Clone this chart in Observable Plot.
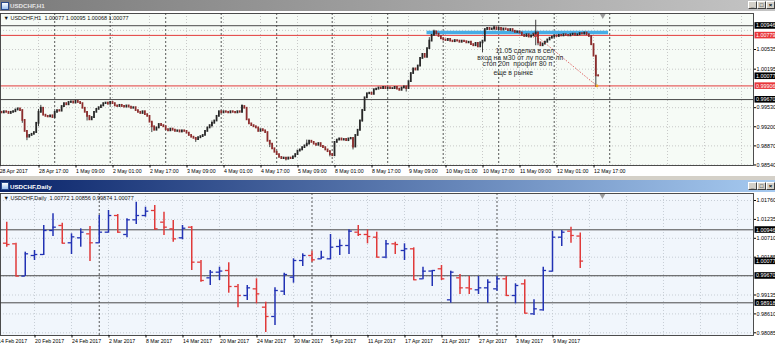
<!DOCTYPE html>
<html><head><meta charset="utf-8">
<script src="https://cdn.jsdelivr.net/npm/d3@7"></script>
<script src="https://cdn.jsdelivr.net/npm/@observablehq/plot@0.6"></script>
<style>
body{margin:0;background:#d4d0c8;}
#wrap{position:relative;width:775px;height:347px;overflow:hidden;background:#d4d0c8;font-family:'Liberation Sans',Arial,sans-serif;}
.tb{position:absolute;left:0;width:775px;overflow:hidden;}
.tb .ico{position:absolute;left:1px;width:6px;height:6px;border:1px solid #2a4a8a;background:linear-gradient(#fff,#9cc0ee);}
.tb .tt{position:absolute;left:10px;font-weight:bold;font-size:6.2px;white-space:nowrap;}
.tb .btn{position:absolute;width:7px;height:6px;background:#d4d0c8;border:1px solid;border-color:#fff #404040 #404040 #fff;font-size:6px;line-height:6px;text-align:center;color:#000;font-weight:bold;}
#c1,#c2{position:absolute;left:0;width:775px;}
</style></head><body>
<div id="wrap">
  <div class="tb" id="tb1" style="top:0;height:11px;background:linear-gradient(90deg,#7b7b7b,#c4c4c4);">
    <div class="ico" style="top:2px"></div><div class="tt" style="top:2px;color:#e4e4e4">USDCHF,H1</div>
    <div class="btn" style="left:748px;top:1px">_</div><div class="btn" style="left:757px;top:1px">□</div><div class="btn" style="left:766px;top:1px">×</div>
  </div>
  <div id="c1" style="top:11px"></div>
  <div class="tb" id="tb2" style="top:180px;height:12px;background:linear-gradient(90deg,#0a246a,#a6caf0);">
    <div class="ico" style="top:2px"></div><div class="tt" style="top:2.5px;color:#ffffff">USDCHF,Daily</div>
    <div class="btn" style="left:748px;top:2px">_</div><div class="btn" style="left:757px;top:2px">□</div><div class="btn" style="left:766px;top:2px">×</div>
  </div>
  <div id="c2" style="top:192px"></div>
</div>
<script>
// ---------------- H1 chart data ----------------
const h1Header = "▼ USDCHF,H1  1.00077 1.00095 1.00068 1.00077";
const h1Labels = ["28 Apr 2017","28 Apr 17:00","1 May 09:00","2 May 01:00","2 May 17:00","3 May 09:00","4 May 01:00","4 May 17:00","5 May 09:00","8 May 01:00","8 May 17:00","9 May 09:00","10 May 01:00","10 May 17:00","11 May 09:00","12 May 01:00","12 May 17:00"];
const h1LabelBars = [0,17,33,49,65,81,97,113,129,145,161,177,193,209,225,241,257];
const h1GridBars = [17,33,49,65,81,97,113,129,145,161,177,193,209,225,241,257,273,289,305,321];
const h1DayStartBars = [24,48,72,96,120,144,168,192,216,240,264];
const h1PriceGrid = [0.98540,0.98870,0.99200,0.99530,0.99865,1.00195,1.00535,1.00865];
const h1PriceLabels = [0.98540,0.98870,0.99200,0.99530,1.00195,1.00535];
// hourly closes, 28 Apr 00:00 .. 12 May 19:00
const h1Close = [
 0.9945,0.9944,0.9946,0.9945,0.9943,0.9945,0.9946,0.9949,0.9951,0.9948,0.9931,0.9912,
 0.9902,0.9905,0.9907,0.9910,0.9926,0.9945,0.9952,0.9940,0.9938,0.9937,0.9939,0.9936,
 0.9945,0.9948,0.9947,0.9955,0.9960,0.9958,0.9962,0.9963,0.9961,0.9964,0.9962,0.9960,
 0.9952,0.9945,0.9938,0.9932,0.9936,0.9945,0.9950,0.9953,0.9956,0.9960,0.9961,0.9959,
 0.9962,0.9960,0.9956,0.9955,0.9957,0.9955,0.9954,0.9956,0.9954,0.9952,0.9953,0.9948,
 0.9945,0.9943,0.9946,0.9941,0.9938,0.9928,0.9920,0.9914,0.9918,0.9924,0.9922,0.9920,
 0.9915,0.9913,0.9916,0.9914,0.9912,0.9913,0.9911,0.9913,0.9912,0.9909,0.9905,0.9902,
 0.9900,0.9898,0.9901,0.9903,0.9905,0.9912,0.9918,0.9922,0.9926,0.9930,0.9938,0.9946,
 0.9944,0.9946,0.9945,0.9944,0.9946,0.9945,0.9944,0.9946,0.9945,0.9955,0.9952,0.9932,
 0.9925,0.9922,0.9920,0.9918,0.9912,0.9915,0.9913,0.9910,0.9895,0.9890,0.9882,0.9876,
 0.9872,0.9867,0.9865,0.9866,0.9864,0.9866,0.9865,0.9868,0.9872,0.9878,0.9880,0.9884,
 0.9887,0.9890,0.9895,0.9893,0.9890,0.9888,0.9891,0.9886,0.9884,0.9880,0.9877,0.9872,
 0.9870,0.9893,0.9897,0.9899,0.9897,0.9898,0.9896,0.9899,0.9900,0.9885,0.9905,0.9914,
 0.9930,0.9948,0.9970,0.9977,0.9978,0.9976,0.9984,0.9985,0.9987,0.9986,0.9988,0.9986,
 0.9987,0.9986,0.9986,0.9988,0.9985,0.9983,0.9987,0.9989,0.9986,0.9998,1.0012,1.0020,
 1.0018,1.0025,1.0038,1.0045,1.0040,1.0055,1.0068,1.0078,1.0084,1.0080,1.0076,1.0072,
 1.0070,1.0069,1.0071,1.0068,1.0067,1.0069,1.0068,1.0066,1.0068,1.0067,1.0065,1.0066,
 1.0062,1.0060,1.0064,1.0058,1.0065,1.0068,1.0088,1.0090,1.0088,1.0089,1.0091,1.0088,
 1.0090,1.0087,1.0089,1.0088,1.0086,1.0088,1.0085,1.0083,1.0084,1.0082,1.0078,1.0076,
 1.0079,1.0075,1.0077,1.0080,1.0082,1.0065,1.0060,1.0063,1.0066,1.0070,1.0073,1.0075,
 1.0077,1.0076,1.0078,1.0077,1.0079,1.0078,1.0077,1.0079,1.0080,1.0078,1.0079,1.0081,
 1.0080,1.0082,1.0079,1.0076,1.0062,1.0042,1.0008,1.00077
];
// notable wicks: [bar, high, low]
const h1Wicks = [[10,0.9949,0.9926],[12,0.9906,0.9896],[17,0.9950,0.9920],[18,0.9957,0.9944],[38,0.9946,0.9930],[66,0.9928,0.9910],[85,0.9901,0.9893],[92,0.9930,0.9918],[105,0.9958,0.9944],
 [117,0.9896,0.9884],[124,0.9867,0.9861],[133,0.9897,0.9886],[143,0.9878,0.9868],[153,0.9899,0.9880],[157,0.9950,0.9928],[176,0.9989,0.9980],[186,1.0074,1.0055],[188,1.0087,1.0078],[209,1.0068,1.0048],
 [214,1.0094,1.0086],[232,1.0104,1.0060],[233,1.0080,1.0060],[256,1.0077,1.0060],[258,1.0042,0.9988],[259,1.00095,1.00068]];
const h1LevelValues = [1.00946,1.00779,0.99906,0.99670];
const h1LevelRoles = ["level","entry","target","level"];
const h1BoxValues = [1.00946,1.00779,1.00077,0.99906,0.99670];
const h1BoxRoles = ["level","entry","bid","target","level"];
const h1ZoneBars = [185,263.5];
const h1ZonePrice = 1.00830;
const h1TradeBars = [232,258.5];
const h1TradePrices = [1.00779,0.99906];
const h1NoteLines = ["11.05 сделка в сел","вход на м30 от лу после лп","стоп 20п  профит 80 п","еще в рынке"];
const h1NoteBars = [214.6,206.7,209.0,213.7];
const h1NotePrices = [1.00518,1.00385,1.00288,1.00125];
const h1ShiftBar = 261;

// ---------------- Daily chart data ----------------
const d1Header = "▼ USDCHF,Daily  1.00772 1.00856 0.99874 1.00077";
const d1Labels = ["14 Feb 2017","20 Feb 2017","24 Feb 2017","2 Mar 2017","8 Mar 2017","14 Mar 2017","20 Mar 2017","24 Mar 2017","30 Mar 2017","5 Apr 2017","11 Apr 2017","17 Apr 2017","21 Apr 2017","27 Apr 2017","3 May 2017","9 May 2017"];
const d1LabelBars = [0,4,8,12,16,20,24,28,32,36,40,44,48,52,56,60];
const d1GridBars = [4,8,12,16,20,24,28,32,36,40,44,48,52,56,60,64,68,72,76,80];
const d1MonthStartBars = [11,34,54];
const d1PriceGrid = [0.98085,0.98610,0.99135,0.99660,1.00185,1.00710,1.01235,1.01760];
const d1PriceLabels = [0.98085,0.98610,0.99135,1.00185,1.00710,1.01235,1.01760];
const d1Open  = [1.0045,1.00574,1.00557,0.99660,1.00232,1.00260,1.00927,1.01066,1.00585,1.00723,1.00834,1.00585,1.00880,1.01343,1.00816,1.01223,
 1.01343,1.01482,1.01158,1.00973,1.00723,1.01019,1.00047,0.99612,0.99769,0.99816,0.99371,0.99121,0.99306,0.98797,0.98538,0.99241,
 0.99630,1.00093,1.00232,1.00140,1.00140,1.00482,1.00510,1.00880,1.00816,1.00741,1.00186,1.00557,1.00371,1.00418,0.99584,0.99800,
 0.99863,0.99001,0.99612,0.99334,0.99279,0.99334,0.99306,0.99584,0.99121,0.99445,0.98612,0.98723,0.99797,1.00741,1.00908,1.00772];
const d1High  = [1.0070,1.01157,1.00570,1.00325,1.00371,1.01066,1.01390,1.01130,1.00834,1.00973,1.01038,1.01343,1.01482,1.01371,1.01251,1.01713,
 1.01574,1.01621,1.01435,1.01204,1.01066,1.01038,1.00093,0.99816,0.99908,1.00030,0.99427,0.99399,0.99584,0.98935,0.99334,0.99741,
 1.00140,1.00279,1.00352,1.00352,1.00816,1.00667,1.00945,1.01066,1.00945,1.00880,1.00649,1.00603,1.00557,1.00445,0.99908,0.99816,
 0.99955,0.99797,0.99704,0.99649,0.99649,0.99557,0.99649,0.99649,0.99445,0.99557,0.99001,0.99908,1.00908,1.00927,1.01019,1.00856];
const d1Low   = [1.0040,1.00463,0.99649,0.99649,1.00093,1.00232,1.00760,1.00557,1.00260,1.00463,1.00066,1.00557,1.00852,1.00852,1.00723,1.01093,
 1.01297,1.00927,1.00788,1.00603,1.00667,0.99816,0.99491,0.99399,0.99538,0.99185,0.98779,0.98982,0.98890,0.98093,0.98288,0.99121,
 0.99463,0.99927,1.00047,1.00112,1.00112,1.00232,1.00260,1.00760,1.00557,1.00168,1.00140,1.00260,1.00093,0.99538,0.99557,0.99371,
 0.99538,0.98907,0.99149,0.99149,0.99149,0.98907,0.99241,0.99093,0.98890,0.98612,0.98566,0.98686,0.99769,1.00482,1.00574,0.99874];
const d1CloseArr = [1.00585,1.00538,0.99660,1.00279,1.00260,1.00927,1.01019,1.00574,1.00750,1.00880,1.00585,1.00880,1.01343,1.00880,1.01223,1.01343,
 1.01463,1.00973,1.01019,1.00695,1.00990,1.00047,0.99538,0.99769,0.99800,0.99371,0.99121,0.99334,0.99167,0.98538,0.99260,0.99704,
 1.00093,1.00232,1.00112,1.00186,1.00463,1.00510,1.00908,1.00816,1.00760,1.00186,1.00557,1.00538,1.00418,0.99557,0.99797,0.99816,
 0.99584,0.99769,0.99334,0.99306,0.99334,0.99491,0.99584,0.99121,0.99399,0.98630,0.98751,0.99816,1.00741,1.00880,1.00788,1.00077];
const d1LevelValues = [1.00946,0.99670,0.98918];
const d1BoxValues = [1.00946,1.00077,0.99670,0.98918];
const d1ShiftBar = 65.4;

// ---------------- helpers ----------------
const FONT = "'Liberation Sans', Arial, sans-serif";
const roleColor = {level:"#4a4a4a", entry:"#e33b3b", target:"#e33b3b", bid:"#000000"};
// near-white text fills used as keys for the box colours drawn behind them
const boxKey = {level:"#fffffe", bid:"#fffffe", entry:"#fffffd", target:"#fffffd"};
const boxBg = {"#fffffe":"#000000", "#fffffd":"#e8363a"};

function addBoxes(svg) {
  Object.keys(boxBg).forEach(key => {
    svg.querySelectorAll(`g[fill="${key}"] text, text[fill="${key}"]`).forEach(t => {
      const b = t.getBBox();
      const r = document.createElementNS("http://www.w3.org/2000/svg", "rect");
      r.setAttribute("x", b.x - 1.5);
      r.setAttribute("y", b.y - 0.3);
      r.setAttribute("width", b.width + 8);
      r.setAttribute("height", b.height + 0.6);
      r.setAttribute("fill", boxBg[key]);
      const tr = t.getAttribute("transform");
      if (tr) r.setAttribute("transform", tr);
      t.parentNode.insertBefore(r, t);
    });
  });
}

const boxMarks = (boxes) => {
  const groups = d3.groups(boxes, d => boxKey[d.role]);
  return groups.map(([key, arr]) => Plot.text(arr, {
    y: "v", text: d => d.v.toFixed(5), frameAnchor: "right", dx: 2.5, textAnchor: "start",
    fill: key, fontSize: 5.4
  }));
};

// ---------------- H1 chart ----------------
const h1Bars = h1Close.map((c, i) => ({i, o: i ? h1Close[i - 1] : c, c}));
const h1LabelMap = new Map(h1LabelBars.map((b, k) => [b, h1Labels[k]]));
const h1Boxes = h1BoxValues.map((v, k) => ({v, role: h1BoxRoles[k]}));
const h1Notes = h1NoteLines.map((t, k) => ({t, i: h1NoteBars[k], p: h1NotePrices[k]}));

const chart1 = Plot.plot({
  width: 775, height: 165,
  marginTop: 2, marginBottom: 11, marginLeft: 0, marginRight: 22,
  x: {type: "linear", domain: [0.566, 326.18]},
  y: {domain: [0.98531, 1.01157]},
  style: {fontFamily: FONT, fontSize: "5.4px", background: "#ffffff", color: "#000"},
  marks: [
    Plot.frame({fill: "#f6fbf6"}),
    Plot.ruleY(h1PriceGrid, {y: d => d, stroke: "#bdbdbd", strokeDasharray: "1,2", strokeWidth: 0.8}),
    Plot.ruleX(h1GridBars, {x: d => d, stroke: "#bdbdbd", strokeDasharray: "1,2", strokeWidth: 0.8}),
    Plot.ruleX(h1DayStartBars, {x: d => d, stroke: "#2e2e2e", strokeDasharray: "2,2", strokeWidth: 0.8}),
    Plot.ruleY(h1LevelValues, {y: d => d, stroke: (d, k) => roleColor[h1LevelRoles[k]], strokeWidth: 1}),
    Plot.ruleY([h1ZonePrice], {y: d => d, x1: h1ZoneBars[0], x2: h1ZoneBars[1], stroke: "#47ade6", strokeWidth: 3.6}),
    Plot.ruleX(h1Wicks, {x: d => d[0], y1: d => d[2], y2: d => d[1], stroke: "#2a2a2a", strokeWidth: 0.9}),
    Plot.ruleX(h1Bars, {x: "i", y1: "o", y2: "c", stroke: d => d.c >= d.o ? "#262626" : "#8c2c2c", strokeWidth: 1.8, strokeLinecap: "square"}),
    Plot.link([0], {x1: () => h1TradeBars[0], x2: () => h1TradeBars[1], y1: () => h1TradePrices[0], y2: () => h1TradePrices[1], stroke: "#d84040", strokeDasharray: "1.5,1.5", strokeWidth: 0.8}),
    Plot.dot([0], {x: () => h1TradeBars[0], y: () => h1TradePrices[0], symbol: "times", r: 2, stroke: "#e03030", strokeWidth: 1}),
    Plot.dot([0], {x: () => h1TradeBars[1], y: () => h1TradePrices[1], r: 1.4, fill: "#f0a020"}),
    Plot.dot([h1ShiftBar], {x: d => d, frameAnchor: "top", dy: 2, symbol: "triangle", rotate: 180, r: 2.2, fill: "#9a9a9a"}),
    Plot.text(h1Notes, {x: "i", y: "p", text: "t", textAnchor: "start", fontSize: 6.8, fill: "#2b2b2b"}),
    Plot.text([h1Header], {frameAnchor: "top-left", dx: 3, dy: 3, text: d => d, lineAnchor: "top", fontSize: 5.5, fill: "#111"}),
    Plot.frame({stroke: "#3a3a3a", strokeWidth: 0.9}),
    Plot.axisX({ticks: h1LabelBars, tickFormat: d => h1LabelMap.get(d), tickSize: 2.5, tickPadding: 1, textAnchor: "start", dx: 0.5, fontSize: 5.2, label: null}),
    Plot.axisY({anchor: "right", ticks: h1PriceLabels, tickFormat: d => d.toFixed(5), tickSize: 2, tickPadding: 1, fontSize: 5.4, label: null}),
    ...boxMarks(h1Boxes)
  ]
});
document.getElementById("c1").appendChild(chart1);
addBoxes(chart1);

// ---------------- Daily chart ----------------
const d1Bars = d1Open.map((o, i) => ({i, o, h: d1High[i], l: d1Low[i], c: d1CloseArr[i]}));
const d1LabelMap = new Map(d1LabelBars.map((b, k) => [b, d1Labels[k]]));
const d1Boxes = d1BoxValues.map(v => ({v, role: "level"}));
const barColor = d => d.c >= d.o ? "#2232b4" : "#e03a3a";

const chart2 = Plot.plot({
  width: 775, height: 155,
  marginTop: 1, marginBottom: 12, marginLeft: 0, marginRight: 22,
  x: {type: "linear", domain: [0.3243, 81.73]},
  y: {domain: [0.98010, 1.019544]},
  style: {fontFamily: FONT, fontSize: "5.4px", background: "#ffffff", color: "#000"},
  marks: [
    Plot.frame({fill: "#f1f6fc"}),
    Plot.ruleY(d1PriceGrid, {y: d => d, stroke: "#bcc4cc", strokeDasharray: "1,2", strokeWidth: 0.8}),
    Plot.ruleX(d1GridBars, {x: d => d, stroke: "#bcc4cc", strokeDasharray: "1,2", strokeWidth: 0.8}),
    Plot.ruleX(d1MonthStartBars, {x: d => d, stroke: "#2e2e2e", strokeDasharray: "2,2", strokeWidth: 0.8}),
    Plot.ruleY(d1LevelValues, {y: d => d, stroke: "#4a4a4a", strokeWidth: 1}),
    Plot.ruleX(d1Bars, {x: "i", y1: "l", y2: "h", stroke: barColor, strokeWidth: 1.5}),
    Plot.ruleY(d1Bars, {y: "o", x1: d => d.i - 0.36, x2: "i", stroke: barColor, strokeWidth: 1.3}),
    Plot.ruleY(d1Bars, {y: "c", x1: "i", x2: d => d.i + 0.36, stroke: barColor, strokeWidth: 1.3}),
    Plot.dot([d1ShiftBar], {x: d => d, frameAnchor: "top", dy: 2, symbol: "triangle", rotate: 180, r: 2.2, fill: "#9a9a9a"}),
    Plot.text([d1Header], {frameAnchor: "top-left", dx: 3, dy: 3, text: d => d, lineAnchor: "top", fontSize: 5.5, fill: "#111"}),
    Plot.frame({stroke: "#3a3a3a", strokeWidth: 0.9}),
    Plot.axisX({ticks: d1LabelBars, tickFormat: d => d1LabelMap.get(d), tickSize: 2.5, tickPadding: 1, textAnchor: "start", dx: 0.5, fontSize: 5.2, label: null}),
    Plot.axisY({anchor: "right", ticks: d1PriceLabels, tickFormat: d => d.toFixed(5), tickSize: 2, tickPadding: 1, fontSize: 5.4, label: null}),
    ...boxMarks(d1Boxes)
  ]
});
document.getElementById("c2").appendChild(chart2);
addBoxes(chart2);
</script>
</body></html>
